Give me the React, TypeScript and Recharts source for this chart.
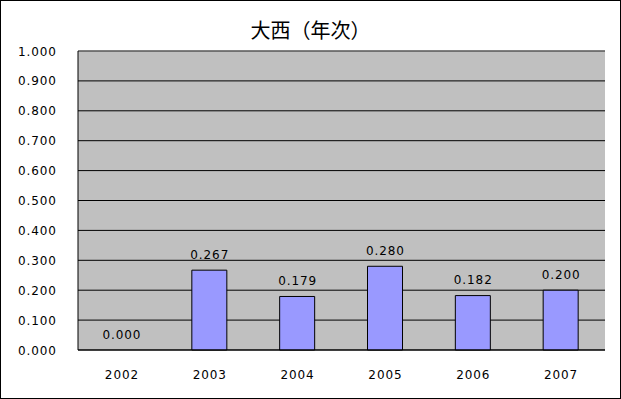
import React from 'react';
import { ComposedChart, Bar, Line, XAxis, YAxis, CartesianGrid, ReferenceLine } from 'recharts';

const years = ['2002', '2003', '2004', '2005', '2006', '2007'];
const values = [0.0, 0.267, 0.179, 0.28, 0.182, 0.2];
const yTicks = [0, 0.1, 0.2, 0.3, 0.4, 0.5, 0.6, 0.7, 0.8, 0.9, 1.0];
const title = '大西（年次）';

const data = years.map((y, i) => ({ year: y, value: values[i] }));

const FONT = '"DejaVu Sans", sans-serif';
const FS = 12;
const LS = 0.9;

const YTick = (props: any) => {
  const { y, payload } = props;
  return (
    <text x={18} y={y} dy={4.5} textAnchor="start" fontFamily={FONT} fontSize={FS} letterSpacing={LS} fill="#000">
      {Number(payload.value).toFixed(3)}
    </text>
  );
};

const XTick = (props: any) => {
  const { x, y, payload } = props;
  return (
    <text x={x} y={y} dy={21} textAnchor="middle" fontFamily={FONT} fontSize={FS} letterSpacing={LS} fill="#000">
      {payload.value}
    </text>
  );
};

const PointLabel = (p: any) => {
  const x = Number(p.x);
  const y = Number(p.y);
  return (
    <text x={x} y={y - 16} dy={4.5} textAnchor="middle" fontFamily={FONT} fontSize={FS} letterSpacing={LS} fill="#000">
      {Number(p.value).toFixed(3)}
    </text>
  );
};

export default function App() {
  return (
    <div style={{ position: 'relative', width: 621, height: 399 }}>
      <style>{`body{margin:0}`}</style>
      <div
        style={{
          position: 'absolute', left: 0, top: 0, width: 621, height: 399,
          boxSizing: 'border-box', border: '1px solid #000', background: '#fff',
        }}
      />
      <div
        style={{
          position: 'absolute', left: 0, top: 17, width: 621, textAlign: 'center',
          fontFamily: '"Noto Sans CJK JP", sans-serif', fontSize: 20, lineHeight: '26px', color: '#000',
        }}
      >
        {title}
      </div>
      <div style={{ position: 'absolute', left: 0, top: 0 }}>
        <ComposedChart width={621} height={399} data={data} margin={{ top: 51, right: 16, bottom: 19, left: 8 }}>
          <CartesianGrid vertical={false} stroke="#000" fill="#C0C0C0" fillOpacity={1} />
          <XAxis
            dataKey="year" height={30} axisLine={{ stroke: '#000' }} tickLine={false}
            tick={<XTick />}
          />
          <YAxis
            domain={[0, 1]} ticks={yTicks} width={70} axisLine={{ stroke: '#000' }}
            tickLine={false} tick={<YTick />} interval={0}
          />
          <YAxis
            yAxisId="r" orientation="right" domain={[0, 1]} width={0} axisLine={{ stroke: '#808080' }}
            tickLine={false} tick={false}
          />
          <ReferenceLine y={1} stroke="#808080" />
          <Bar
            dataKey="value" fill="#9999FF" stroke="#000" strokeWidth={1} barSize={35}
            isAnimationActive={false}
          />
          <Line
            dataKey="value" stroke="none" dot={false} activeDot={false} legendType="none"
            isAnimationActive={false} label={<PointLabel />}
          />
        </ComposedChart>
      </div>
    </div>
  );
}
